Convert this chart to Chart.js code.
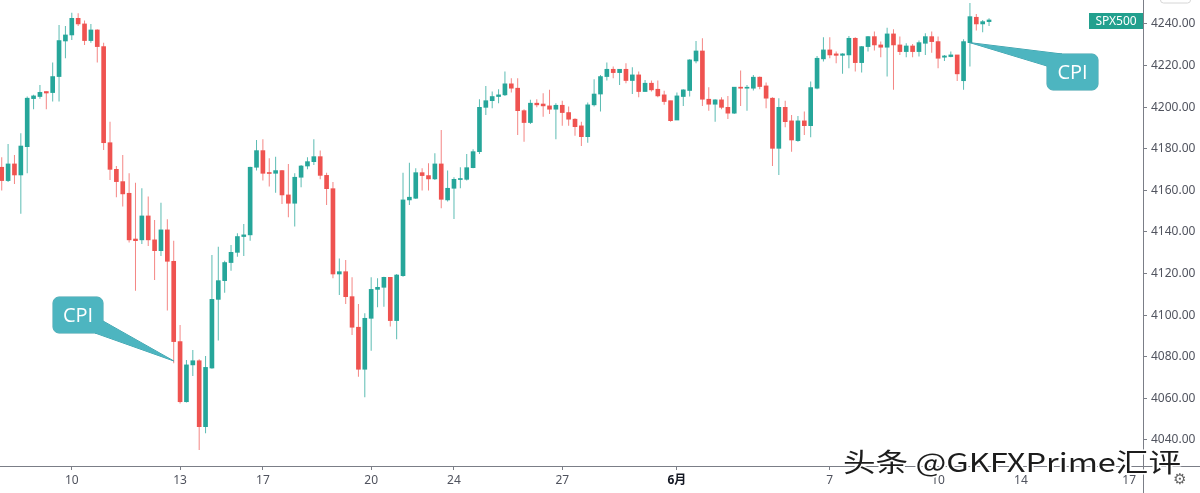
<!DOCTYPE html>
<html>
<head>
<meta charset="utf-8">
<script src="https://cdn.jsdelivr.net/npm/chart.js@4.4.1/dist/chart.umd.min.js"></script>
<style>
html, body { margin: 0; padding: 0; background: #fff; }
#wrap { width: 1200px; height: 493px; }
</style>
</head>
<body>
<div id="wrap"><canvas id="spx" width="1200" height="493"></canvas></div>
<script>
// SPX500, 4h candles
const open = [4171.1, 4164.7, 4172.7, 4167.4, 4181.0, 4204.1, 4205.1, 4207.5, 4207.0, 4214.7,
  4231.8, 4234.7, 4242.7, 4240.0, 4232.0, 4237.1, 4229.1, 4182.9, 4170.1, 4164.2,
  4158.6, 4136.6, 4136.2, 4147.7, 4136.2, 4131.0, 4141.0, 4125.9, 4087.3, 4058.4,
  4076.1, 4078.1, 4046.4, 4074.6, 4107.6, 4116.6, 4125.3, 4130.2, 4137.8, 4138.6,
  4171.1, 4179.1, 4168.5, 4168.2, 4169.5, 4157.8, 4153.8, 4166.3, 4171.7, 4173.8,
  4176.2, 4167.2, 4160.8, 4119.8, 4120.9, 4108.9, 4094.2, 4074.0, 4098.5, 4112.4,
  4113.4, 4118.2, 4097.4, 4119.0, 4155.4, 4156.2, 4168.5, 4167.1, 4165.5, 4172.7,
  4155.4, 4161.0, 4165.2, 4165.3, 4170.9, 4178.6, 4199.9, 4203.1, 4205.1, 4205.9,
  4211.2, 4209.1, 4198.3, 4192.6, 4201.9, 4201.5, 4200.6, 4199.0, 4200.9, 4197.4,
  4194.2, 4191.0, 4185.8, 4201.1, 4206.3, 4214.7, 4218.2, 4216.6, 4218.2, 4212.8,
  4215.5, 4207.5, 4211.5, 4208.6, 4205.9, 4203.1, 4193.8, 4205.1, 4208.0, 4222.2,
  4227.0, 4203.8, 4201.4, 4203.5, 4199.9, 4197.1, 4209.6, 4209.1, 4209.1, 4214.4,
  4210.2, 4204.3, 4180.2, 4199.9, 4193.4, 4183.9, 4193.4, 4191.1, 4209.1, 4223.2,
  4227.5, 4225.6, 4224.9, 4225.1, 4233.1, 4221.4, 4229.1, 4233.9, 4229.9, 4228.8,
  4235.2, 4229.9, 4226.7, 4229.4, 4226.7, 4230.7, 4233.9, 4231.5, 4224.0, 4224.3,
  4225.1, 4212.7, 4231.0, 4243.2, 4240.0, 4241.1];

const high = [4175.9, 4182.3, 4177.0, 4187.4, 4205.1, 4205.9, 4210.7, 4207.5, 4221.4, 4239.5,
  4239.0, 4245.4, 4245.1, 4241.6, 4240.0, 4237.4, 4231.0, 4193.0, 4171.7, 4177.0,
  4168.2, 4163.7, 4161.0, 4157.0, 4145.8, 4154.1, 4146.1, 4135.8, 4095.3, 4078.5,
  4083.3, 4078.8, 4080.4, 4128.9, 4132.9, 4126.2, 4133.7, 4139.4, 4143.8, 4171.4,
  4184.2, 4184.6, 4175.4, 4176.2, 4169.8, 4172.7, 4168.2, 4172.2, 4175.9, 4184.6,
  4179.1, 4168.5, 4164.0, 4127.3, 4126.5, 4118.2, 4105.4, 4100.9, 4118.2, 4117.7,
  4118.5, 4118.2, 4119.8, 4168.5, 4173.3, 4170.6, 4170.6, 4173.0, 4177.8, 4189.0,
  4169.5, 4166.3, 4171.1, 4177.5, 4179.7, 4203.8, 4210.2, 4207.5, 4208.6, 4217.1,
  4213.9, 4213.9, 4199.0, 4203.5, 4203.8, 4206.7, 4208.3, 4201.9, 4203.1, 4200.3,
  4194.6, 4193.0, 4202.2, 4213.4, 4215.5, 4221.4, 4219.5, 4218.2, 4221.1, 4219.2,
  4217.1, 4213.1, 4212.8, 4212.8, 4207.9, 4203.1, 4207.0, 4208.6, 4223.0, 4231.8,
  4233.1, 4209.6, 4203.8, 4204.7, 4205.4, 4209.6, 4217.6, 4210.7, 4215.5, 4214.7,
  4211.8, 4204.7, 4204.3, 4203.1, 4196.2, 4195.8, 4197.9, 4212.3, 4224.6, 4233.6,
  4233.6, 4226.7, 4225.9, 4234.2, 4233.6, 4229.4, 4234.2, 4236.3, 4231.5, 4238.2,
  4237.4, 4233.9, 4230.7, 4230.4, 4232.0, 4235.5, 4236.3, 4233.9, 4225.1, 4226.7,
  4225.1, 4232.6, 4250.0, 4244.8, 4241.9, 4242.7];

const low = [4159.9, 4164.0, 4163.1, 4148.7, 4168.2, 4199.0, 4204.0, 4199.0, 4202.7, 4202.7,
  4223.5, 4232.3, 4239.0, 4229.9, 4231.0, 4221.4, 4179.4, 4165.0, 4156.7, 4152.2,
  4134.9, 4111.8, 4134.2, 4133.3, 4116.9, 4128.5, 4102.2, 4076.9, 4057.6, 4058.0,
  4070.8, 4035.2, 4043.2, 4074.3, 4087.8, 4110.8, 4121.4, 4128.1, 4128.5, 4135.8,
  4169.5, 4164.7, 4161.8, 4158.9, 4153.5, 4147.1, 4142.6, 4161.5, 4170.1, 4172.2,
  4165.3, 4153.0, 4117.7, 4109.7, 4105.4, 4090.5, 4070.4, 4060.5, 4082.9, 4103.8,
  4104.1, 4094.5, 4088.4, 4118.5, 4153.0, 4155.9, 4159.9, 4159.9, 4165.0, 4151.4,
  4154.6, 4146.2, 4161.0, 4164.7, 4170.6, 4177.5, 4196.2, 4199.5, 4201.9, 4205.4,
  4207.0, 4186.6, 4183.4, 4191.9, 4199.9, 4195.4, 4196.7, 4184.6, 4191.0, 4191.0,
  4186.2, 4181.3, 4182.9, 4200.3, 4197.9, 4212.8, 4213.9, 4210.7, 4211.5, 4206.3,
  4204.7, 4207.5, 4207.5, 4204.7, 4201.1, 4193.0, 4193.8, 4200.6, 4205.1, 4221.1,
  4200.6, 4198.3, 4193.0, 4199.0, 4194.3, 4196.7, 4200.6, 4198.3, 4208.0, 4208.6,
  4199.5, 4171.7, 4167.4, 4190.3, 4178.6, 4183.4, 4186.6, 4185.5, 4208.6, 4221.9,
  4223.5, 4221.1, 4216.0, 4218.7, 4217.1, 4216.6, 4226.7, 4227.2, 4224.0, 4214.7,
  4208.3, 4225.1, 4224.0, 4224.0, 4224.3, 4225.1, 4226.2, 4218.7, 4222.2, 4224.0,
  4212.6, 4208.3, 4219.5, 4236.8, 4236.0, 4239.0];

const close = [4164.7, 4172.7, 4167.4, 4181.3, 4204.3, 4205.4, 4207.1, 4206.8, 4214.7, 4232.0,
  4234.7, 4242.7, 4240.0, 4232.0, 4237.1, 4229.1, 4182.9, 4170.1, 4164.2, 4158.3,
  4136.2, 4135.8, 4147.7, 4136.2, 4131.0, 4141.0, 4125.9, 4087.3, 4058.4, 4076.1,
  4078.1, 4046.4, 4074.9, 4107.6, 4116.6, 4125.3, 4130.2, 4137.8, 4138.6, 4171.1,
  4179.1, 4168.2, 4168.1, 4169.5, 4157.8, 4153.8, 4166.3, 4171.7, 4173.8, 4176.2,
  4167.2, 4160.8, 4119.8, 4120.9, 4108.9, 4094.2, 4074.0, 4098.5, 4112.4, 4113.4,
  4118.2, 4097.4, 4119.3, 4155.4, 4156.7, 4168.5, 4167.1, 4165.5, 4172.7, 4155.7,
  4161.0, 4165.3, 4165.6, 4170.9, 4178.6, 4199.9, 4203.1, 4205.1, 4205.9, 4211.2,
  4209.1, 4198.3, 4192.6, 4201.9, 4201.1, 4200.6, 4199.0, 4200.9, 4197.4, 4194.2,
  4190.6, 4185.8, 4201.1, 4206.3, 4214.7, 4218.2, 4216.6, 4218.2, 4212.8, 4215.5,
  4207.5, 4211.5, 4208.3, 4205.4, 4202.7, 4193.5, 4205.4, 4208.3, 4222.7, 4227.0,
  4203.8, 4201.4, 4203.5, 4199.9, 4197.1, 4209.6, 4209.1, 4209.4, 4214.4, 4209.9,
  4204.3, 4180.2, 4199.9, 4193.0, 4184.2, 4193.4, 4191.1, 4209.4, 4223.5, 4227.5,
  4225.1, 4224.9, 4225.6, 4233.1, 4221.4, 4229.1, 4233.9, 4229.9, 4228.8, 4235.2,
  4229.9, 4226.7, 4229.4, 4226.7, 4231.0, 4233.9, 4231.5, 4223.5, 4224.6, 4225.1,
  4216.0, 4231.5, 4243.5, 4240.0, 4241.1, 4241.9];

// day labels sit on the candle index where that day starts (14 and 17 are future slots)
const xTickIdx = [11, 28, 41, 58, 71, 88, 106, 130, 147, 160, 177];
const xTickText = ['10', '13', '17', '20', '24', '27', '6月', '7', '10', '14', '17'];
const yTicks = [4040, 4060, 4080, 4100, 4120, 4140, 4160, 4180, 4200, 4220, 4240];

// the two CPI releases: candle index and price the pointer touches
const cpiMarks = [
  {idx: 27, price: 4078},
  {idx: 152, price: 4231}
];

const UP = '#26a69a', DOWN = '#ef5350';
const UP_WICK = 'rgba(38,166,154,0.75)', DOWN_WICK = 'rgba(239,83,80,0.7)';
const AXIS = '#7b7e87';

const up = close.map((c, i) => c >= open[i]);
const bodies = open.map((o, i) => ({x: i, y: [Math.min(o, close[i]), Math.max(o, close[i])]}));
const wicks = open.map((o, i) => ({x: i, y: [low[i], high[i]]}));

function drawCallout(ctx, box, base1, base2, tip) {
  ctx.save();
  ctx.fillStyle = '#4db5c0';
  ctx.strokeStyle = '#3a9da8';
  ctx.lineWidth = 1;
  ctx.beginPath();
  ctx.roundRect(box.x, box.y, box.w, box.h, 6);
  ctx.moveTo(base1[0], base1[1]);
  ctx.lineTo(tip[0], tip[1]);
  ctx.lineTo(base2[0], base2[1]);
  ctx.closePath();
  ctx.stroke();
  ctx.beginPath();
  ctx.roundRect(box.x, box.y, box.w, box.h, 6);
  ctx.fill();
  ctx.beginPath();
  ctx.moveTo(base1[0], base1[1]);
  ctx.lineTo(tip[0], tip[1]);
  ctx.lineTo(base2[0], base2[1]);
  ctx.closePath();
  ctx.fill();
  ctx.fillStyle = '#fff';
  ctx.font = '20px "Open Sans", "Noto Sans", sans-serif';
  ctx.textAlign = 'center';
  ctx.textBaseline = 'middle';
  ctx.fillText('CPI', box.x + box.w / 2, box.y + box.h / 2 + 1);
  ctx.restore();
}

const overlay = {
  id: 'overlay',
  afterDraw(chart) {
    const ctx = chart.ctx;
    const xs = chart.scales.x, ys = chart.scales.y;
    const area = chart.chartArea;
    ctx.save();
    // axis lines run across the whole frame
    ctx.strokeStyle = AXIS;
    ctx.lineWidth = 1;
    ctx.beginPath();
    ctx.moveTo(0, area.bottom + 0.5);
    ctx.lineTo(chart.width, area.bottom + 0.5);
    ctx.moveTo(area.right + 0.5, 0);
    ctx.lineTo(area.right + 0.5, chart.height);
    ctx.stroke();

    // small button at top right edge
    ctx.strokeStyle = '#d6d6d6';
    ctx.beginPath();
    ctx.roundRect(1160.5, -8, 30, 11, 3);
    ctx.stroke();

    // symbol tag
    ctx.fillStyle = '#22a08e';
    ctx.fillRect(1089, 13, 54, 16);
    ctx.fillStyle = '#fff';
    ctx.font = '12px "Noto Sans", sans-serif';
    ctx.textAlign = 'center';
    ctx.textBaseline = 'middle';
    ctx.fillText('SPX500', 1116, 21.5);

    // CPI callouts
    const t1 = [xs.getPixelForValue(cpiMarks[0].idx), ys.getPixelForValue(cpiMarks[0].price)];
    drawCallout(ctx, {x: 53, y: 297, w: 50, h: 36}, [103, 321], [95, 333], t1);
    const t2 = [xs.getPixelForValue(cpiMarks[1].idx), ys.getPixelForValue(cpiMarks[1].price)];
    drawCallout(ctx, {x: 1047, y: 54, w: 51, h: 36}, [1062, 54], [1047, 66], t2);

    // settings gear
    ctx.fillStyle = '#666';
    ctx.font = '15px "DejaVu Sans", sans-serif';
    ctx.textAlign = 'center';
    ctx.textBaseline = 'middle';
    ctx.fillText('\u2699', 1180, 480);

    // watermark
    const wm = '头条 @GKFXPrime汇评';
    ctx.font = '26px "Noto Sans CJK SC", sans-serif';
    ctx.textAlign = 'left';
    ctx.textBaseline = 'middle';
    const w = ctx.measureText(wm).width;
    ctx.translate(843, 462);
    ctx.scale(338 / w, 1);
    ctx.lineWidth = 3;
    ctx.strokeStyle = '#fff';
    ctx.lineJoin = 'round';
    ctx.strokeText(wm, 0, 0);
    ctx.fillStyle = '#1c1c1c';
    ctx.fillText(wm, 0, 0);
    ctx.restore();
  }
};

new Chart(document.getElementById('spx'), {
  type: 'bar',
  data: {
    datasets: [
      {
        label: 'body',
        data: bodies,
        backgroundColor: up.map(u => u ? UP : DOWN),
        barThickness: 4,
        minBarLength: 1,
        grouped: false,
        order: 0
      },
      {
        label: 'wick',
        data: wicks,
        backgroundColor: up.map(u => u ? UP_WICK : DOWN_WICK),
        barThickness: 1,
        inflateAmount: 0,
        grouped: false,
        order: 1
      }
    ]
  },
  options: {
    responsive: false,
    animation: false,
    layout: {padding: 0},
    plugins: {
      legend: {display: false},
      tooltip: {enabled: false}
    },
    scales: {
      x: {
        type: 'linear',
        min: -0.27,
        max: 179.17,
        offset: false,
        border: {display: false},
        grid: {offset: false, drawOnChartArea: false, drawTicks: true, tickLength: 4, color: AXIS},
        ticks: {
          autoSkip: false,
          maxRotation: 0,
          padding: 3,
          color: (c) => xTickText[xTickIdx.indexOf(c.tick && c.tick.value)] === '6月' ? '#131722' : '#50535e',
          font: (c) => ({
            family: '"Noto Sans", "Noto Sans CJK SC", sans-serif',
            size: 12,
            weight: xTickText[xTickIdx.indexOf(c.tick && c.tick.value)] === '6月' ? 'bold' : 'normal'
          }),
          callback: (v) => {
            const k = xTickIdx.indexOf(v);
            return k >= 0 ? xTickText[k] : '';
          }
        },
        afterBuildTicks: (s) => { s.ticks = xTickIdx.map(v => ({value: v})); },
        afterFit: (s) => { s.height = 27; s.paddingLeft = 0; s.paddingRight = 0; }
      },
      y: {
        position: 'right',
        min: 4027.5,
        max: 4251.5,
        border: {display: false},
        grid: {drawOnChartArea: false, drawTicks: true, tickLength: 4, color: AXIS},
        ticks: {
          padding: 4,
          color: '#50535e',
          font: {family: '"Noto Sans", sans-serif', size: 12},
          callback: (v) => v.toFixed(2)
        },
        afterBuildTicks: (s) => { s.ticks = yTicks.map(v => ({value: v})); },
        afterFit: (s) => { s.width = 57; s.paddingTop = 0; s.paddingBottom = 0; }
      }
    }
  },
  plugins: [overlay]
});
</script>
</body>
</html>
